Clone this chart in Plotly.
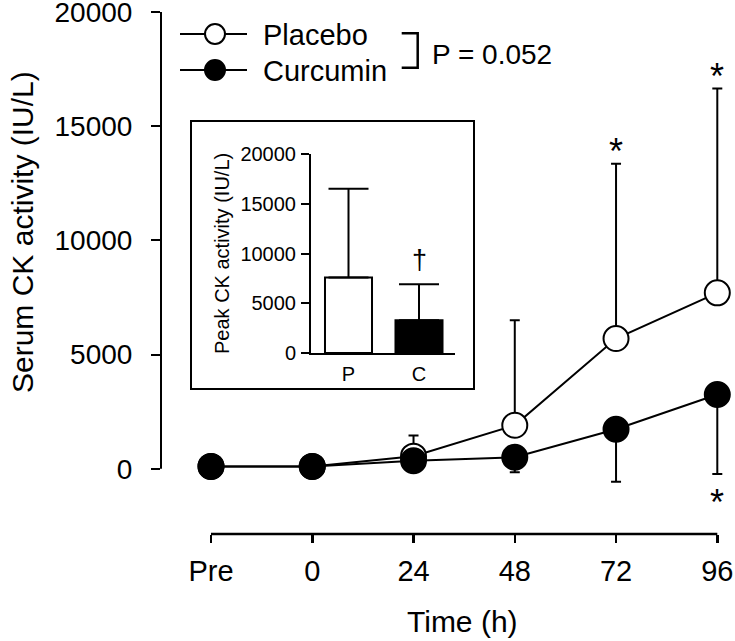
import plotly.graph_objects as go

# ---------------- data ----------------
time_labels = ["Pre", "0", "24", "48", "72", "96"]
time_pos = [0, 1, 2, 3, 4, 5]
placebo_mean = [100, 100, 550, 1900, 5700, 7700]
placebo_sd = [0, 0, 900, 4600, 7650, 8950]
curcumin_mean = [100, 100, 350, 500, 1725, 3250]
curcumin_sd = [0, 0, 0, 650, 2300, 3480]

peak_labels = ["P", "C"]
peak_pos = [0, 1]
peak_mean = [7600, 3300]
peak_sd = [8900, 3600]

y_ticks = [0, 5000, 10000, 15000, 20000]
y_ticktext = ["0", "5000", "10000", "15000", "20000"]

FONT = "Liberation Sans, Arial, Helvetica, sans-serif"

# ---------------- geometry helpers ----------------
W_FIG, H_FIG = 735, 641
# pixel positions of plot area
P_LEFT, P_TOP, P_BOTTOM, P_RIGHT = 161, 12, 534, 730
L = P_LEFT
T = P_TOP
B = H_FIG - P_BOTTOM
R = W_FIG - P_RIGHT
PW = W_FIG - L - R
PH = H_FIG - T - B


def px_x(px):
    return (px - L) / PW


def px_y(py):
    return (H_FIG - B - py) / PH


fig = go.Figure()

# main series
fig.add_trace(go.Scatter(
    x=time_pos, y=placebo_mean, mode="lines+markers", name="Placebo",
    line=dict(color="black", width=2),
    marker=dict(symbol="circle", size=25, color="white",
                line=dict(color="black", width=2)),
    error_y=dict(type="data", symmetric=False, array=placebo_sd,
                 arrayminus=[0] * len(placebo_sd), color="black",
                 thickness=2, width=5),
    cliponaxis=False, showlegend=False,
))
fig.add_trace(go.Scatter(
    x=time_pos, y=curcumin_mean, mode="lines+markers", name="Curcumin",
    line=dict(color="black", width=2),
    marker=dict(symbol="circle", size=25, color="black",
                line=dict(color="black", width=2)),
    error_y=dict(type="data", symmetric=False, array=[0] * len(curcumin_sd),
                 arrayminus=curcumin_sd, color="black",
                 thickness=2, width=5),
    cliponaxis=False, showlegend=False,
))

# inset bars
fig.add_trace(go.Bar(
    x=peak_pos, y=peak_mean, width=0.667,
    marker=dict(color=["white", "black"], line=dict(color="black", width=2)),
    error_y=dict(type="data", symmetric=False, array=peak_sd,
                 arrayminus=[0, 0], color="black", thickness=2, width=20),
    xaxis="x2", yaxis="y2", showlegend=False,
))

zero_px = 468.7
ymin = -(P_BOTTOM - zero_px) / (zero_px - P_TOP) * 20000
xscale = 101.26
xmin = -(211 - P_LEFT) / xscale
xmax = xmin + PW / xscale

fig.update_layout(
    width=W_FIG, height=H_FIG,
    margin=dict(l=L, r=R, t=T, b=B, pad=0, autoexpand=False),
    paper_bgcolor="white", plot_bgcolor="white",
    font=dict(family=FONT, color="black"),
    xaxis=dict(range=[xmin, xmax], tickvals=time_pos, ticktext=time_labels,
               showline=False, showgrid=False, zeroline=False, automargin=False,
               ticks="outside", ticklen=8, tickwidth=2.5, tickcolor="black",
               tickfont=dict(size=29, family=FONT), ticklabelstandoff=3,
               ticklabeloverflow="allow"),
    yaxis=dict(range=[ymin, 20000], tickvals=y_ticks, ticktext=y_ticktext,
               showline=False, showgrid=False, zeroline=False, automargin=False,
               ticks="outside", ticklen=9, tickwidth=2, tickcolor="black",
               tickfont=dict(size=28, family=FONT), ticklabelstandoff=13,
               ticklabeloverflow="allow"),
    xaxis2=dict(domain=[px_x(311), px_x(455)], anchor="y2", automargin=False,
                range=[-(348.5 - 311) / 70.5, -(348.5 - 311) / 70.5 + 144 / 70.5],
                tickvals=peak_pos, ticktext=peak_labels, ticks="",
                showline=True, linecolor="black", linewidth=2,
                showgrid=False, zeroline=False,
                tickfont=dict(size=20, family=FONT), ticklabelstandoff=2),
    yaxis2=dict(domain=[px_y(353), px_y(154)], anchor="x2", automargin=False,
                range=[0, 20000], tickvals=y_ticks, ticktext=y_ticktext,
                showline=True, linecolor="black", linewidth=2,
                showgrid=False, zeroline=False,
                ticks="outside", ticklen=8, tickwidth=2, tickcolor="black",
                tickfont=dict(size=20, family=FONT), ticklabelstandoff=1),
    hovermode=False,
)

shapes = []
# main y-axis line (0 to 20000)
shapes.append(dict(type="line", xref="paper", yref="y", x0=0, x1=0,
                   y0=0, y1=20000, line=dict(color="black", width=2)))
# main x-axis line (Pre to 96)
shapes.append(dict(type="line", xref="x", yref="paper", x0=0, x1=5,
                   y0=0, y1=0, line=dict(color="black", width=2.5)))
# inset frame
shapes.append(dict(type="rect", xref="paper", yref="paper",
                   x0=px_x(191), x1=px_x(474), y0=px_y(389), y1=px_y(121),
                   line=dict(color="black", width=2), fillcolor="rgba(0,0,0,0)"))
# legend entries
for ly, fill in [(34, "white"), (70, "black")]:
    shapes.append(dict(type="line", xref="paper", yref="paper",
                       x0=px_x(180), x1=px_x(247), y0=px_y(ly), y1=px_y(ly),
                       line=dict(color="black", width=2)))
    shapes.append(dict(type="circle", xref="paper", yref="paper",
                       x0=px_x(205), x1=px_x(225), y0=px_y(ly + 10), y1=px_y(ly - 10),
                       line=dict(color="black", width=2), fillcolor=fill))
# bracket
shapes.append(dict(type="path", xref="paper", yref="paper",
                   path="M {a},{b} L {c},{b} L {c},{d} L {a},{d}".format(
                       a=px_x(401.7), b=px_y(33.3), c=px_x(417.7), d=px_y(67.7)),
                   line=dict(color="black", width=2.5)))
fig.update_layout(shapes=shapes)

ann = []
ann.append(dict(text="Placebo", xref="paper", yref="paper", x=px_x(261), y=px_y(35),
                xanchor="left", yanchor="middle", showarrow=False,
                font=dict(size=29, family=FONT)))
ann.append(dict(text="Curcumin", xref="paper", yref="paper", x=px_x(261), y=px_y(71),
                xanchor="left", yanchor="middle", showarrow=False,
                font=dict(size=29, family=FONT)))
ann.append(dict(text="P = 0.052", xref="paper", yref="paper", x=px_x(429.5), y=px_y(54),
                xanchor="left", yanchor="middle", showarrow=False,
                font=dict(size=28, family=FONT)))
ann.append(dict(text="Serum CK activity (IU/L)", xref="paper", yref="paper",
                x=px_x(22), y=px_y(232), textangle=-90, xanchor="center", yanchor="middle",
                showarrow=False, font=dict(size=30, family=FONT)))
ann.append(dict(text="Time (h)", xref="paper", yref="paper",
                x=px_x(463), y=px_y(621), xanchor="center", yanchor="middle",
                showarrow=False, font=dict(size=30, family=FONT)))
ann.append(dict(text="Peak CK activity (IU/L)", xref="paper", yref="paper",
                x=px_x(222), y=px_y(254), textangle=-90, xanchor="center", yanchor="middle",
                showarrow=False, font=dict(size=20, family=FONT)))
ann.append(dict(text="†", xref="x2", yref="y2", x=peak_pos[1],
                y=peak_mean[1] + peak_sd[1], yshift=24, xanchor="center", yanchor="middle",
                showarrow=False, font=dict(size=27, family=FONT)))
# asterisks above placebo error bars at 72 and 96
for i in [4, 5]:
    ann.append(dict(text="*", xref="x", yref="y", x=time_pos[i],
                    y=placebo_mean[i] + placebo_sd[i], yshift=12,
                    xanchor="center", yanchor="middle", showarrow=False,
                    font=dict(size=36, family=FONT)))
# asterisk below curcumin error bar at 96
ann.append(dict(text="*", xref="x", yref="y", x=time_pos[5],
                y=curcumin_mean[5] - curcumin_sd[5], yshift=-29,
                xanchor="center", yanchor="middle", showarrow=False,
                font=dict(size=36, family=FONT)))
fig.update_layout(annotations=ann)

fig.write_html(
    "out.html",
    config={"displayModeBar": False, "staticPlot": True},
    post_script=(
        "document.documentElement.style.margin='0';"
        "document.body.style.margin='0';"
        "document.documentElement.style.overflow='hidden';"
        "document.body.style.overflow='hidden';"
    ),
)
